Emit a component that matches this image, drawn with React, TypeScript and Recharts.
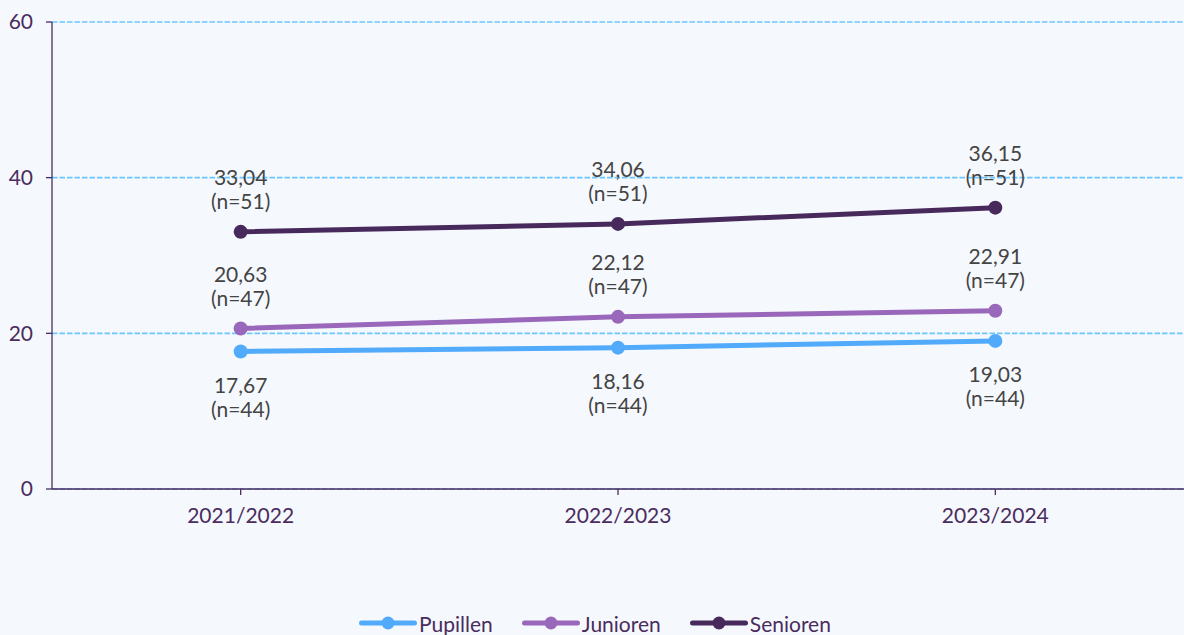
import React from "react";
import { LineChart, Line, XAxis, YAxis, CartesianGrid, Legend } from "recharts";

const seasons = ["2021/2022", "2022/2023", "2023/2024"];
const pupillen = [17.67, 18.16, 19.03];
const junioren = [20.63, 22.12, 22.91];
const senioren = [33.04, 34.06, 36.15];
const nPupillen = 44;
const nJunioren = 47;
const nSenioren = 51;
const yTicks = [0, 20, 40, 60];

const data = seasons.map((s, i) => ({
  season: s,
  Pupillen: pupillen[i],
  Junioren: junioren[i],
  Senioren: senioren[i],
}));

const C_PUP = "#52abfa";
const C_JUN = "#9a68ba";
const C_SEN = "#48295c";
const AXIS = "#4a2c5e";
const FONT = "Lato, 'Open Sans', sans-serif";
const FS = 21;

const fmt = (v: number) => v.toFixed(2).replace(".", ",");

const makeLabel = (n: number, below: boolean) => (props: any) => {
  const { x, y, value } = props;
  if (x == null || y == null) return null;
  const y1 = below ? y + 33 : y - 55;
  const y2 = below ? y + 57 : y - 31;
  return (
    <g>
      <text x={x} y={y1} textAnchor="middle" dominantBaseline="central" fill="#444444" fontSize={FS} fontFamily={FONT}>
        {fmt(Number(value))}
      </text>
      <text x={x} y={y2} textAnchor="middle" dominantBaseline="central" fill="#444444" fontSize={FS} fontFamily={FONT}>
        {`(n=${n})`}
      </text>
    </g>
  );
};

const legendItems = [
  { name: "Pupillen", color: C_PUP },
  { name: "Junioren", color: C_JUN },
  { name: "Senioren", color: C_SEN },
];

const LegendContent = () => (
  <div
    style={{
      display: "flex",
      justifyContent: "center",
      alignItems: "center",
      height: 30,
      fontFamily: FONT,
      fontSize: FS,
      color: AXIS,
      gap: 29,
      paddingLeft: 6,
    }}
  >
    {legendItems.map((it) => (
      <div key={it.name} style={{ display: "flex", alignItems: "center" }}>
        <svg width={58} height={16} style={{ marginRight: 2 }}>
          <line x1={2.5} y1={8} x2={55.5} y2={8} stroke={it.color} strokeWidth={5} strokeLinecap="round" />
          <circle cx={29} cy={8} r={6.5} fill={it.color} />
        </svg>
        <span>{it.name}</span>
      </div>
    ))}
  </div>
);

export default function App() {
  return (
    <div style={{ position: "absolute", left: 0, top: 0, width: 1184, height: 635, background: "#f5f8fd" }}>
      <LineChart
        width={1184}
        height={635}
        data={data}
        margin={{ top: 22, right: 0, left: 0, bottom: 86 }}
        style={{ fontFamily: FONT }}
      >
        <CartesianGrid vertical={false} stroke="#6cc6ff" strokeOpacity={1} strokeDasharray="5.5 2" strokeWidth={1.6} />
        <XAxis
          dataKey="season"
          scale="band"
          height={30}
          stroke={AXIS}
          strokeWidth={1.3}
          tickSize={6}
          tickMargin={13}
          tick={{ fill: AXIS, fontSize: FS, fontFamily: FONT }}
        />
        <YAxis
          width={52}
          domain={[0, 60]}
          ticks={yTicks}
          stroke={AXIS}
          strokeWidth={1.3}
          tickSize={6}
          tickMargin={13}
          tick={{ fill: AXIS, fontSize: FS, fontFamily: FONT }}
        />
        <Legend
          verticalAlign="bottom"
          content={<LegendContent />}
          wrapperStyle={{ top: 608, height: 30 }}
        />
        <Line
          dataKey="Pupillen"
          stroke={C_PUP}
          strokeWidth={5}
          dot={{ r: 7, fill: C_PUP, stroke: C_PUP, strokeWidth: 0 }}
          isAnimationActive={false}
          label={makeLabel(nPupillen, true)}
        />
        <Line
          dataKey="Junioren"
          stroke={C_JUN}
          strokeWidth={5}
          dot={{ r: 7, fill: C_JUN, stroke: C_JUN, strokeWidth: 0 }}
          isAnimationActive={false}
          label={makeLabel(nJunioren, false)}
        />
        <Line
          dataKey="Senioren"
          stroke={C_SEN}
          strokeWidth={5}
          dot={{ r: 7, fill: C_SEN, stroke: C_SEN, strokeWidth: 0 }}
          isAnimationActive={false}
          label={makeLabel(nSenioren, false)}
        />
      </LineChart>
    </div>
  );
}
